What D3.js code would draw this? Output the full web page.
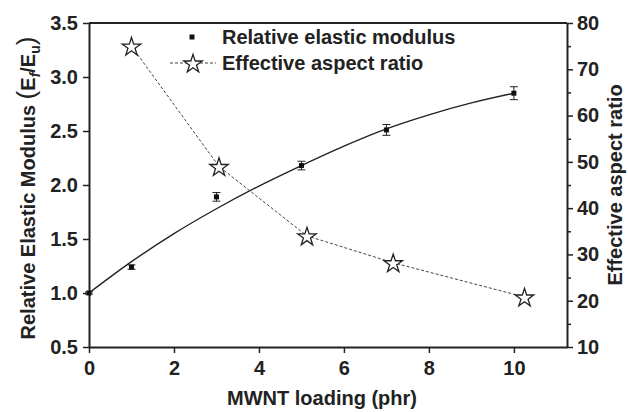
<!DOCTYPE html>
<html><head><meta charset="utf-8">
<script src="https://cdn.jsdelivr.net/npm/d3@7"></script>
<style>body{margin:0;background:#fff}svg{display:block}text{font-family:Arial,"Liberation Sans",sans-serif;font-weight:bold}</style>
</head><body><svg id="c" width="628" height="412"></svg>
<script>
const loading = [0, 1, 3, 5, 7, 10];
const modulus = [1.0, 1.24, 1.89, 2.18, 2.51, 2.85];
const modulusErr = [0.01, 0.02, 0.04, 0.04, 0.05, 0.06];
const fitX = [0, 1, 2, 3, 4, 5, 6, 7, 8, 9, 10];
const fitY = [1.0, 1.29, 1.55, 1.78, 1.99, 2.18, 2.36, 2.52, 2.65, 2.76, 2.85];
const aspectX = [1.0, 3.06, 5.13, 7.16, 10.25];
const aspectY = [75, 49, 34, 28.2, 20.8];
const xTicks = [0, 2, 4, 6, 8, 10];
const yLeftTicks = [0.5, 1.0, 1.5, 2.0, 2.5, 3.0, 3.5];
const yRightTicks = [10, 20, 30, 40, 50, 60, 70, 80];
const yRightMinor = [15, 25, 35, 45, 55, 65, 75];

const svg = d3.select("#c");
const L = 89, R = 567, T = 23, B = 347;
const x = d3.scaleLinear().domain([0, 11.25]).range([L, R]);
const yL = d3.scaleLinear().domain([0.5, 3.5]).range([B, T]);
const yR = d3.scaleLinear().domain([10, 80]).range([B, T]);
const ink = "#222";
const FS = 20;

// frame top line
svg.append("line").attr("x1", L).attr("x2", R).attr("y1", T).attr("y2", T).attr("stroke", ink).attr("stroke-width", 2);

// axes
const gx = svg.append("g").attr("transform", `translate(0,${B})`)
  .call(d3.axisBottom(x).tickValues(xTicks).tickFormat(d3.format("d")).tickSize(6).tickPadding(6).tickSizeOuter(0));
const gl = svg.append("g").attr("transform", `translate(${L},0)`)
  .call(d3.axisLeft(yL).tickValues(yLeftTicks).tickFormat(d3.format(".1f")).tickSize(6).tickPadding(5).tickSizeOuter(0));
const gr = svg.append("g").attr("transform", `translate(${R},0)`)
  .call(d3.axisRight(yR).tickValues(yRightTicks).tickFormat(d3.format("d")).tickSize(6).tickPadding(4).tickSizeOuter(0));
svg.append("g").attr("transform", `translate(${R},0)`)
  .call(d3.axisRight(yR).tickValues(yRightMinor).tickFormat("").tickSize(4).tickSizeOuter(0))
  .select(".domain").remove();
svg.selectAll(".domain").attr("stroke", ink).attr("stroke-width", 2);
svg.selectAll(".tick line").attr("stroke", ink).attr("stroke-width", 1.5);
[gx, gl, gr].forEach(g => g.selectAll("text").attr("font-size", FS).attr("fill", ink)
  .attr("font-family", "Arial, 'Liberation Sans', sans-serif").attr("font-weight", "bold"));
gx.selectAll("text").attr("dy", "0.8em");

// fit curve
svg.append("path").datum(fitX.map((d, i) => [d, fitY[i]]))
  .attr("d", d3.line().x(d => x(d[0])).y(d => yL(d[1])).curve(d3.curveMonotoneX))
  .attr("fill", "none").attr("stroke", ink).attr("stroke-width", 1.4);

// error bars and points
const eb = svg.append("g");
loading.forEach((d, i) => {
  const cx = x(d), y1 = yL(modulus[i] - modulusErr[i]), y2 = yL(modulus[i] + modulusErr[i]);
  eb.append("line").attr("x1", cx).attr("x2", cx).attr("y1", y1).attr("y2", y2).attr("stroke", ink).attr("stroke-width", 1);
  [y1, y2].forEach(yy => eb.append("line").attr("x1", cx - 4).attr("x2", cx + 4).attr("y1", yy).attr("y2", yy).attr("stroke", ink).attr("stroke-width", 1));
  eb.append("rect").attr("x", cx - 2.5).attr("y", yL(modulus[i]) - 2.5).attr("width", 5).attr("height", 5).attr("fill", "#111");
});

// aspect ratio dashed line and stars
svg.append("path").datum(aspectX.map((d, i) => [d, aspectY[i]]))
  .attr("d", d3.line().x(d => x(d[0])).y(d => yR(d[1])))
  .attr("fill", "none").attr("stroke", "#444").attr("stroke-width", 1).attr("stroke-dasharray", "3,2");
const star = d3.symbol().type(d3.symbolStar).size(105);
svg.append("g").selectAll("path").data(aspectX).join("path")
  .attr("transform", (d, i) => `translate(${x(d)},${yR(aspectY[i]) + 1})`)
  .attr("d", star).attr("fill", "#fff").attr("stroke", ink).attr("stroke-width", 1.3);

// legend
const lg = svg.append("g");
lg.append("rect").attr("x", 189.5).attr("y", 34.5).attr("width", 5).attr("height", 5).attr("fill", "#111");
lg.append("text").attr("x", 222).attr("y", 44).attr("font-size", FS).attr("fill", ink).text("Relative elastic modulus");
lg.append("line").attr("x1", 170).attr("x2", 216).attr("y1", 63).attr("y2", 63).attr("stroke", "#444").attr("stroke-dasharray", "3,2");
lg.append("path").attr("transform", "translate(193,64)").attr("d", star).attr("fill", "#fff").attr("stroke", ink).attr("stroke-width", 1.3);
lg.append("text").attr("x", 222).attr("y", 70).attr("font-size", FS).attr("fill", ink).text("Effective aspect ratio");

// axis titles
svg.append("text").attr("x", 322).attr("y", 405).attr("text-anchor", "middle").attr("font-size", FS).attr("fill", ink).text("MWNT loading (phr)");
svg.append("text").attr("transform", "translate(622,185) rotate(-90)").attr("text-anchor", "middle").attr("font-size", FS).attr("fill", ink).text("Effective aspect ratio");
const yt = svg.append("text").attr("transform", "translate(35,188) rotate(-90)").attr("text-anchor", "middle").attr("font-size", FS).attr("fill", ink);
yt.append("tspan").text("Relative Elastic Modulus ");
yt.append("tspan").attr("font-size", 26).attr("font-weight", "normal").text("(");
yt.append("tspan").text("E");
yt.append("tspan").attr("font-size", 14).attr("dy", 5).attr("font-style", "italic").text("f");
yt.append("tspan").attr("dy", -5).text("/E");
yt.append("tspan").attr("font-size", 14).attr("dy", 5).text("u");
yt.append("tspan").attr("dy", -5).attr("font-size", 26).attr("font-weight", "normal").text(")");
</script></body></html>
